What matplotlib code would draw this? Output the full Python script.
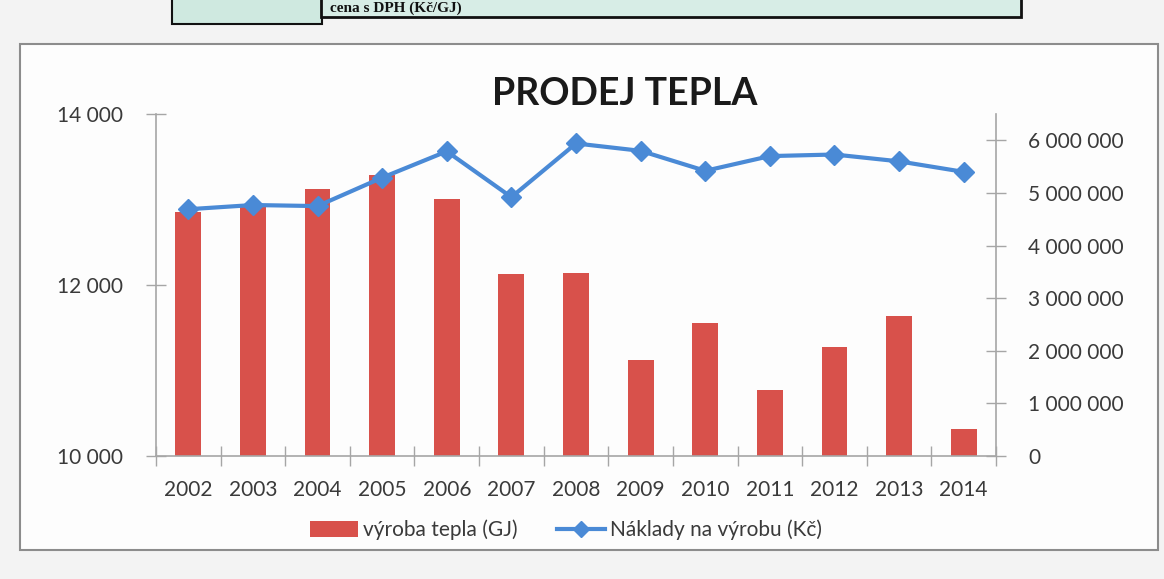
import numpy as np
import matplotlib.pyplot as plt
from matplotlib.patches import Rectangle, Patch
from matplotlib.lines import Line2D
from matplotlib.ticker import FixedLocator, FuncFormatter

# data
years = ['2002', '2003', '2004', '2005', '2006', '2007', '2008',
         '2009', '2010', '2011', '2012', '2013', '2014']
vyroba_gj = [12850, 12930, 13120, 13290, 13010, 12130, 12140,
             11120, 11560, 10770, 11280, 11640, 10310]
naklady_kc = [4690000, 4770000, 4750000, 5290000, 5790000, 4920000, 5940000,
              5800000, 5420000, 5700000, 5730000, 5600000, 5400000]
left_ticks = [10000, 12000, 14000]
right_ticks = [0, 1000000, 2000000, 3000000, 4000000, 5000000, 6000000]

bar_color = '#d8514b'
line_color = '#4a8ad6'
axis_color = '#a6a6a6'
text_color = '#3a3a3a'

plt.rcParams['font.family'] = ['Lato', 'DejaVu Sans']

fig = plt.figure(figsize=(11.64, 5.79), dpi=100)
fig.patch.set_facecolor('#f3f3f3')

# chart frame
fig.patches.append(Rectangle((20/1164, 1-550/579), 1138/1164, 506/579,
                             transform=fig.transFigure, facecolor='#fdfdfd',
                             edgecolor='#8c8c8c', linewidth=1.5, zorder=-2))
# fragment of the table above the chart
fig.patches.append(Rectangle((172/1164, 1-24/579), 150/1164, 30/579,
                             transform=fig.transFigure, facecolor='#cfe9e0',
                             edgecolor='#111111', linewidth=1.5, zorder=-2))
fig.patches.append(Rectangle((321/1164, 1-17/579), 700/1164, 30/579,
                             transform=fig.transFigure, facecolor='#d7ede6',
                             edgecolor='#111111', linewidth=2, zorder=-2))
fig.text(330/1164, 1-8/579, 'cena s DPH (Kč/GJ)', family='Liberation Serif',
         weight='bold', fontsize=11, color='#111111', va='center', ha='left')

ax = fig.add_axes([156/1164, 1-456/579, 840/1164, 342/579])
ax.set_facecolor('none')
x = np.arange(len(years))
ax.bar(x, np.array(vyroba_gj) - 10000, bottom=10000, width=0.4,
       color=bar_color, zorder=2)
ax.set_xlim(-0.5, len(years) - 0.5)
ax.set_ylim(10000, 14000)

ax.yaxis.set_major_locator(FixedLocator(left_ticks))
fmt = FuncFormatter(lambda v, p: f'{int(v):,}'.replace(',', ' '))
ax.yaxis.set_major_formatter(fmt)

ax.xaxis.set_major_locator(FixedLocator(np.arange(-0.5, len(years), 1.0)))
ax.xaxis.set_major_formatter(FuncFormatter(lambda v, p: ''))
ax.xaxis.set_minor_locator(FixedLocator(x))
ax.set_xticklabels(years, minor=True)

ax.tick_params(axis='x', which='major', direction='inout', length=14,
               color=axis_color, width=1)
ax.tick_params(axis='x', which='minor', length=0, pad=17,
               labelsize=15, labelcolor=text_color)
ax.tick_params(axis='y', direction='inout', length=14, color=axis_color,
               width=1, pad=17, labelsize=15, labelcolor=text_color)

for s in ['top', 'right']:
    ax.spines[s].set_visible(False)
for s in ['left', 'bottom']:
    ax.spines[s].set_color(axis_color)
    ax.spines[s].set_linewidth(1.2)

ax2 = ax.twinx()
ax2.plot(x, naklady_kc, color=line_color, linewidth=3, marker='D',
         markersize=10, zorder=3)
ax2.set_ylim(0, 6500000)
ax2.yaxis.set_major_locator(FixedLocator(right_ticks))
ax2.yaxis.set_major_formatter(fmt)
ax2.tick_params(axis='y', direction='inout', length=14, color=axis_color,
                width=1, pad=16, labelsize=15, labelcolor=text_color)
for s in ['top', 'left', 'bottom']:
    ax2.spines[s].set_visible(False)
ax2.spines['right'].set_color(axis_color)
ax2.spines['right'].set_linewidth(1.2)

fig.text(625/1164, 1-94/579, 'PRODEJ TEPLA', ha='center', va='center',
         fontsize=27, weight='bold', color='#1a1a1a')

handles = [Patch(facecolor=bar_color, edgecolor='none'),
           Line2D([0], [0], color=line_color, linewidth=3, marker='D',
                  markersize=8)]
fig.legend(handles, ['výroba tepla (GJ)', 'Náklady na výrobu (Kč)'],
           loc='center', bbox_to_anchor=(566/1164, 1-530/579), ncol=2,
           frameon=False, fontsize=15, handlelength=2.3, handleheight=0.8,
           handletextpad=0.25, columnspacing=1.9, labelcolor=text_color)

fig.savefig('out.png', dpi=100, facecolor=fig.get_facecolor())
